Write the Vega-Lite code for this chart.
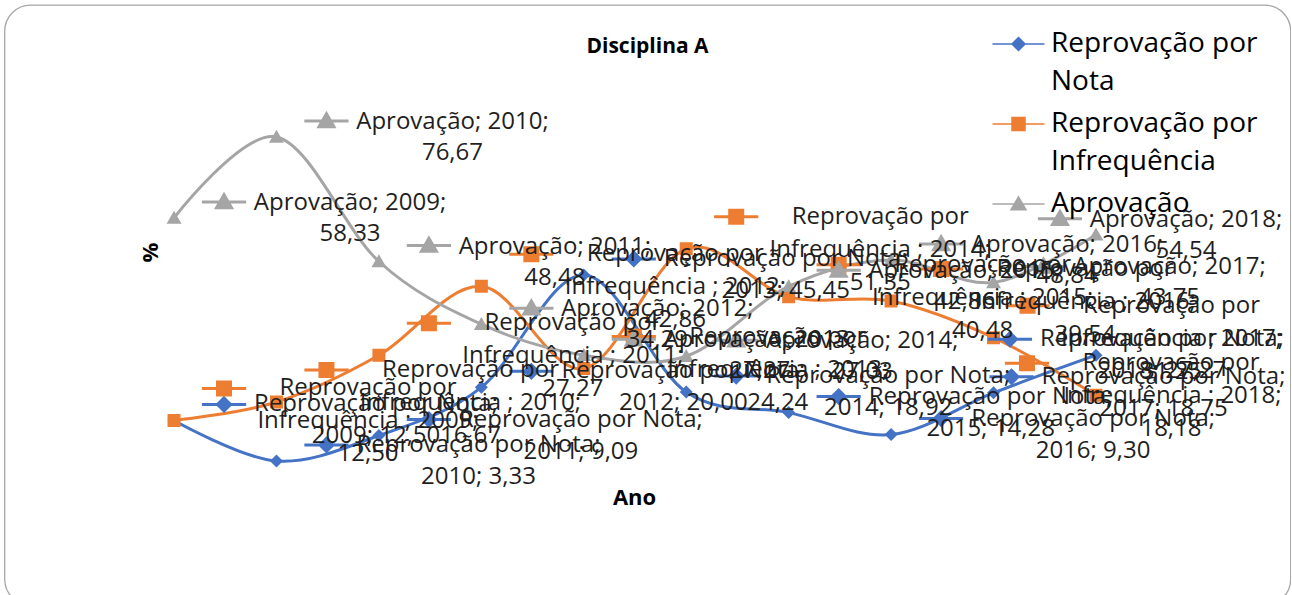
{
  "$schema": "https://vega.github.io/schema/vega-lite/v6.json",
  "width": 1286,
  "height": 600,
  "autosize": {"type": "none"},
  "padding": {"left": 4.5, "top": 5, "right": 0, "bottom": 0},
  "background": "white",
  "config": {
    "view": {"stroke": "#a6a6a6", "strokeWidth": 1.3, "cornerRadius": 26},
    "font": "Open Sans",
    "style": {"guide-label": {"lineHeight": 38}},
    "axis": {"labels": false, "ticks": false, "domain": false, "grid": false, "titleFont": "Open Sans", "titleFontSize": 22, "titleFontWeight": "bold", "titleColor": "#000000"}
  },
  "title": {"text": "Disciplina A", "font": "Open Sans", "fontSize": 21, "fontWeight": "bold", "color": "#000000", "offset": -63, "baseline": "middle", "anchor": "middle"},
  "data": {
    "values": [
      {"ano": 2009, "serie": "Reprovação por Nota", "valor": 12.5},
      {"ano": 2010, "serie": "Reprovação por Nota", "valor": 3.33},
      {"ano": 2011, "serie": "Reprovação por Nota", "valor": 9.09},
      {"ano": 2012, "serie": "Reprovação por Nota", "valor": 20.0},
      {"ano": 2013, "serie": "Reprovação por Nota", "valor": 45.45},
      {"ano": 2014, "serie": "Reprovação por Nota", "valor": 18.92},
      {"ano": 2015, "serie": "Reprovação por Nota", "valor": 14.28},
      {"ano": 2016, "serie": "Reprovação por Nota", "valor": 9.3},
      {"ano": 2017, "serie": "Reprovação por Nota", "valor": 18.75},
      {"ano": 2018, "serie": "Reprovação por Nota", "valor": 27.27},
      {"ano": 2009, "serie": "Reprovação por Infrequência", "valor": 12.5},
      {"ano": 2010, "serie": "Reprovação por Infrequência", "valor": 16.67},
      {"ano": 2011, "serie": "Reprovação por Infrequência", "valor": 27.27},
      {"ano": 2012, "serie": "Reprovação por Infrequência", "valor": 42.86},
      {"ano": 2013, "serie": "Reprovação por Infrequência", "valor": 24.24},
      {"ano": 2014, "serie": "Reprovação por Infrequência", "valor": 51.35},
      {"ano": 2015, "serie": "Reprovação por Infrequência", "valor": 40.48},
      {"ano": 2016, "serie": "Reprovação por Infrequência", "valor": 39.54},
      {"ano": 2017, "serie": "Reprovação por Infrequência", "valor": 31.25},
      {"ano": 2018, "serie": "Reprovação por Infrequência", "valor": 18.18},
      {"ano": 2009, "serie": "Aprovação", "valor": 58.33},
      {"ano": 2010, "serie": "Aprovação", "valor": 76.67},
      {"ano": 2011, "serie": "Aprovação", "valor": 48.48},
      {"ano": 2012, "serie": "Aprovação", "valor": 34.29},
      {"ano": 2013, "serie": "Aprovação", "valor": 27.27},
      {"ano": 2014, "serie": "Aprovação", "valor": 27.03},
      {"ano": 2015, "serie": "Aprovação", "valor": 42.86},
      {"ano": 2016, "serie": "Aprovação", "valor": 48.84},
      {"ano": 2017, "serie": "Aprovação", "valor": 43.75},
      {"ano": 2018, "serie": "Aprovação", "valor": 54.54}
    ]
  },
  "transform": [
    {"calculate": "replace(format(datum.valor, '.2f'), '.', ',')", "as": "vtxt"},
    {"calculate": "datum.serie == 'Aprovação' ? 'Aprovação; ' + datum.ano + ';|' + datum.vtxt : (datum.serie == 'Reprovação por Nota' ? 'Reprovação por Nota;|' + datum.ano + '; ' + datum.vtxt : 'Reprovação por|Infrequência ; ' + datum.ano + ';|' + datum.vtxt)", "as": "rotulo"}
  ],
  "encoding": {
    "x": {"field": "ano", "type": "quantitative", "scale": {"domain": [2007.345, 2019.899], "nice": false, "zero": false},
      "axis": {"title": "Ano", "titleX": 629.5, "titleY": -108, "titleBaseline": "middle", "titleAlign": "center"}},
    "y": {"field": "valor", "type": "quantitative", "scale": {"domain": [-29.27, 106.54], "nice": false, "zero": false},
      "axis": {"title": "%", "titleX": 145.5, "titleY": 247, "titleBaseline": "middle", "titleAlign": "center", "titleAngle": -90}}
  },
  "layer": [
    {
      "mark": {"type": "line", "interpolate": "cardinal", "strokeWidth": 3},
      "encoding": {
        "color": {"field": "serie", "type": "nominal",
          "scale": {"domain": ["Reprovação por Nota", "Reprovação por Infrequência", "Aprovação"], "range": ["#4472C4", "#ED7D31", "#A5A5A5"]}}
      }
    },
    {
      "mark": {"type": "point", "filled": true, "size": 169, "opacity": 1, "strokeWidth": 0},
      "encoding": {
        "color": {"field": "serie", "type": "nominal",
          "scale": {"domain": ["Reprovação por Nota", "Reprovação por Infrequência", "Aprovação"], "range": ["#4472C4", "#ED7D31", "#A5A5A5"]},
          "legend": {"title": null, "orient": "none", "legendX": 1000, "legendY": 25, "padding": 0,
            "labelExpr": "split(replace(datum.label, 'por ', 'por|'), '|')",
            "labelFont": "Open Sans", "labelFontSize": 28, "labelColor": "#000000", "labelOffset": 18.5, "labelLimit": 500,
            "labelBaseline": "middle", "symbolSize": 169, "rowPadding": 14,
            "encode": {
              "symbols": {"update": {"stroke": {"scale": "color", "field": "value"}, "fill": {"scale": "color", "field": "value"}, "strokeWidth": {"value": 3}, "opacity": {"value": 1}}}
            }}},
        "shape": {"field": "serie", "type": "nominal",
          "scale": {"domain": ["Reprovação por Nota", "Reprovação por Infrequência", "Aprovação"],
            "range": ["M-4,0H4M0,-1L1,0L0,1L-1,0Z", "M-4,0H4M-1,-1H1V1H-1Z", "M-4,0H4M0,-1.1L1.15,0.9H-1.15Z"]}}
      }
    },
    {
      "transform": [{"filter": "datum.serie == 'Reprovação por Nota' && datum.ano < 2017"}],
      "mark": {"type": "point", "filled": true, "size": 169, "opacity": 1, "shape": "M-3.4,0H3.4M0,-1L1,0L0,1L-1,0Z", "fill": "#4472C4", "stroke": "#4472C4", "strokeWidth": 3, "xOffset": 50, "yOffset": -16}
    },
    {
      "transform": [{"filter": "datum.serie == 'Reprovação por Nota' && datum.ano == 2017"}],
      "mark": {"type": "point", "filled": true, "size": 169, "opacity": 1, "shape": "M-3.4,0H3.4M0,-1L1,0L0,1L-1,0Z", "fill": "#4472C4", "stroke": "#4472C4", "strokeWidth": 3, "xOffset": 18, "yOffset": -16}
    },
    {
      "transform": [{"filter": "datum.serie == 'Reprovação por Nota' && datum.ano == 2018"}],
      "mark": {"type": "point", "filled": true, "size": 169, "opacity": 1, "shape": "M-3.4,0H3.4M0,-1L1,0L0,1L-1,0Z", "fill": "#4472C4", "stroke": "#4472C4", "strokeWidth": 3, "xOffset": -86, "yOffset": -16}
    },
    {
      "transform": [{"filter": "datum.serie == 'Reprovação por Infrequência' && datum.ano < 2017"}],
      "mark": {"type": "point", "filled": true, "size": 169, "opacity": 1, "shape": "M-3.4,0H3.4M-1,-1H1V1H-1Z", "fill": "#ED7D31", "stroke": "#ED7D31", "strokeWidth": 3, "xOffset": 50, "yOffset": -32}
    },
    {
      "transform": [{"filter": "datum.serie == 'Reprovação por Infrequência' && datum.ano == 2017"}],
      "mark": {"type": "point", "filled": true, "size": 169, "opacity": 1, "shape": "M-3.4,0H3.4M-1,-1H1V1H-1Z", "fill": "#ED7D31", "stroke": "#ED7D31", "strokeWidth": 3, "xOffset": 34, "yOffset": -32}
    },
    {
      "transform": [{"filter": "datum.serie == 'Reprovação por Infrequência' && datum.ano == 2018"}],
      "mark": {"type": "point", "filled": true, "size": 169, "opacity": 1, "shape": "M-3.4,0H3.4M-1,-1H1V1H-1Z", "fill": "#ED7D31", "stroke": "#ED7D31", "strokeWidth": 3, "xOffset": -69, "yOffset": -32}
    },
    {
      "transform": [{"filter": "datum.serie == 'Aprovação' && datum.ano < 2018"}],
      "mark": {"type": "point", "filled": true, "size": 169, "opacity": 1, "shape": "M-3.4,0H3.4M0,-1.1L1.15,0.9H-1.15Z", "fill": "#A5A5A5", "stroke": "#A5A5A5", "strokeWidth": 3, "xOffset": 50, "yOffset": -16}
    },
    {
      "transform": [{"filter": "datum.serie == 'Aprovação' && datum.ano == 2018"}],
      "mark": {"type": "point", "filled": true, "size": 169, "opacity": 1, "shape": "M-3.4,0H3.4M0,-1.1L1.15,0.9H-1.15Z", "fill": "#A5A5A5", "stroke": "#A5A5A5", "strokeWidth": 3, "xOffset": -36, "yOffset": -16}
    },
    {
      "transform": [{"filter": "datum.serie == 'Reprovação por Nota' && datum.ano < 2017"}],
      "mark": {"type": "text", "align": "center", "baseline": "middle", "dx": 202, "dy": -16, "lineBreak": "|", "lineHeight": 32, "font": "Open Sans", "fontSize": 24, "color": "#1f1f1f"},
      "encoding": {"text": {"field": "rotulo"}}
    },
    {
      "transform": [{"filter": "datum.serie == 'Reprovação por Nota' && datum.ano == 2017"}],
      "mark": {"type": "text", "align": "center", "baseline": "middle", "dx": 170, "dy": -16, "lineBreak": "|", "lineHeight": 32, "font": "Open Sans", "fontSize": 24, "color": "#1f1f1f"},
      "encoding": {"text": {"field": "rotulo"}}
    },
    {
      "transform": [{"filter": "datum.serie == 'Reprovação por Nota' && datum.ano == 2018"}],
      "mark": {"type": "text", "align": "center", "baseline": "middle", "dx": 66, "dy": -16, "lineBreak": "|", "lineHeight": 32, "font": "Open Sans", "fontSize": 24, "color": "#1f1f1f"},
      "encoding": {"text": {"field": "rotulo"}}
    },
    {
      "transform": [{"filter": "datum.serie == 'Reprovação por Infrequência' && datum.ano < 2017"}],
      "mark": {"type": "text", "align": "center", "baseline": "middle", "dx": 194, "dy": -32, "lineBreak": "|", "lineHeight": 33, "font": "Open Sans", "fontSize": 24, "color": "#1f1f1f"},
      "encoding": {"text": {"field": "rotulo"}}
    },
    {
      "transform": [{"filter": "datum.serie == 'Reprovação por Infrequência' && datum.ano == 2017"}],
      "mark": {"type": "text", "align": "center", "baseline": "middle", "dx": 178, "dy": -32, "lineBreak": "|", "lineHeight": 33, "font": "Open Sans", "fontSize": 24, "color": "#1f1f1f"},
      "encoding": {"text": {"field": "rotulo"}}
    },
    {
      "transform": [{"filter": "datum.serie == 'Reprovação por Infrequência' && datum.ano == 2018"}],
      "mark": {"type": "text", "align": "center", "baseline": "middle", "dx": 75, "dy": -32, "lineBreak": "|", "lineHeight": 33, "font": "Open Sans", "fontSize": 24, "color": "#1f1f1f"},
      "encoding": {"text": {"field": "rotulo"}}
    },
    {
      "transform": [{"filter": "datum.serie == 'Aprovação' && datum.ano < 2018"}],
      "mark": {"type": "text", "align": "center", "baseline": "middle", "dx": 176, "dy": -15, "lineBreak": "|", "lineHeight": 31, "font": "Open Sans", "fontSize": 24, "color": "#1f1f1f"},
      "encoding": {"text": {"field": "rotulo"}}
    },
    {
      "transform": [{"filter": "datum.serie == 'Aprovação' && datum.ano == 2018"}],
      "mark": {"type": "text", "align": "center", "baseline": "middle", "dx": 90, "dy": -15, "lineBreak": "|", "lineHeight": 31, "font": "Open Sans", "fontSize": 24, "color": "#1f1f1f"},
      "encoding": {"text": {"field": "rotulo"}}
    }
  ]
}
